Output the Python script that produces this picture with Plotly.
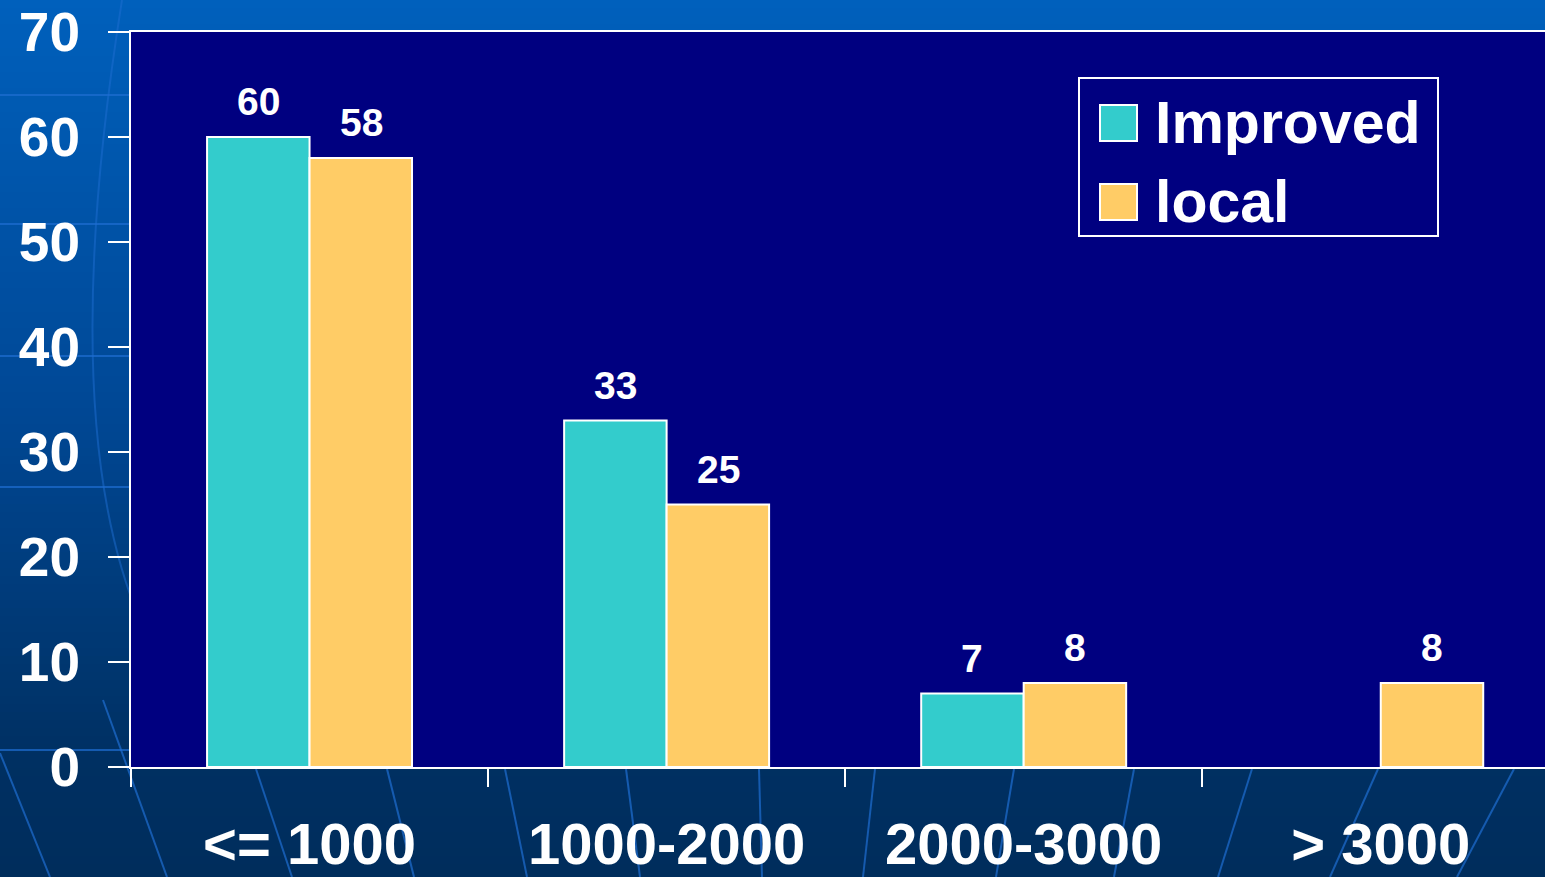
import plotly.graph_objects as go

# ---- data ----
categories = ["<= 1000", "1000-2000", "2000-3000", "> 3000"]
series_names = ["Improved", "local"]
improved = [60, 33, 7, None]
local = [58, 25, 8, 8]
y_ticks = [0, 10, 20, 30, 40, 50, 60, 70]

# ---- styles ----
W, H = 1545, 877
ML, MR, MT, MB = 131, 0, 32, 110
PW, PH = W - ML - MR, H - MT - MB
NAVY = "#000080"
TEAL = "#33CCCC"
GOLD = "#FFCC66"
FONT = "Liberation Sans, Arial, sans-serif"
colors = [TEAL, GOLD]


def px(x):
    return (x - ML) / PW


def py(y):
    return (H - MB - y) / PH


def lerp_color(y):
    stops = [(0, (0, 96, 188)), (400, (0, 72, 150)), (760, (0, 48, 98)), (877, (0, 45, 92))]
    for (y0, c0), (y1, c1) in zip(stops[:-1], stops[1:]):
        if y0 <= y <= y1:
            t = (y - y0) / (y1 - y0)
            return "rgb(%d,%d,%d)" % tuple(round(a + (b - a) * t) for a, b in zip(c0, c1))
    return "rgb(0,45,92)"


shapes = []
band = 8
for y0 in range(0, H, band):
    shapes.append(dict(type="rect", xref="paper", yref="paper", layer="below",
                       x0=px(0), x1=px(W), y0=py(y0), y1=py(min(y0 + band + 1, H)),
                       line=dict(width=0), fillcolor=lerp_color(y0 + band / 2)))

deco = "rgba(30,110,210,0.7)"
for yy in [95, 224, 356, 487, 750]:
    shapes.append(dict(type="line", xref="paper", yref="paper", layer="below",
                       x0=px(0), x1=px(130), y0=py(yy), y1=py(yy),
                       line=dict(color=deco, width=2)))
# curved line in left margin
shapes.append(dict(type="path", xref="paper", yref="paper", layer="below",
                   path="M %f,%f Q %f,%f %f,%f" % (px(122), py(0), px(55), py(420), px(140), py(620)),
                   line=dict(color="rgba(30,110,210,0.5)", width=2)))
# diagonal lines in bottom strip
tops = [256, 387, 505, 626, 759, 875, 1014, 1134, 1252, 1378, 1514]
bots = [292, 414, 527, 640, 762, 863, 996, 1114, 1218, 1330, 1457]
for xt, xb in zip(tops, bots):
    shapes.append(dict(type="line", xref="paper", yref="paper", layer="below",
                       x0=px(xt), x1=px(xb), y0=py(769), y1=py(877),
                       line=dict(color=deco, width=2)))
for (xa, ya, xb, yb) in [(0, 753, 50, 877), (103, 700, 167, 877)]:
    shapes.append(dict(type="line", xref="paper", yref="paper", layer="below",
                       x0=px(xa), x1=px(xb), y0=py(ya), y1=py(yb),
                       line=dict(color=deco, width=2)))

# navy plot area
shapes.append(dict(type="rect", xref="paper", yref="paper", layer="below",
                   x0=0, x1=1, y0=0, y1=1, line=dict(width=0), fillcolor=NAVY))

# custom legend
shapes.append(dict(type="rect", xref="paper", yref="paper", layer="above",
                   x0=px(1079), x1=px(1438), y0=py(78), y1=py(236),
                   line=dict(color="white", width=2), fillcolor=NAVY))
annotations = []
for i, (name, col) in enumerate(zip(series_names, colors)):
    cy = 123 + i * 79
    shapes.append(dict(type="rect", xref="paper", yref="paper", layer="above",
                       x0=px(1100), x1=px(1137), y0=py(cy - 18), y1=py(cy + 18),
                       line=dict(color="white", width=2), fillcolor=col))
    annotations.append(dict(xref="paper", yref="paper", x=px(1153), y=py(cy),
                            xanchor="left", yanchor="middle", showarrow=False,
                            text="<b>%s</b>" % name,
                            font=dict(family=FONT, size=59, color="white")))

fig = go.Figure()
for name, vals, col in zip(series_names, [improved, local], colors):
    fig.add_trace(go.Bar(name=name, x=categories, y=vals,
                         marker=dict(color=col, line=dict(color="white", width=2)),
                         showlegend=False))

# value labels above bars
for k, (vals, shift) in enumerate(zip([improved, local], [-51.5, 51.5])):
    for c, v in zip(categories, vals):
        if v is None:
            continue
        annotations.append(dict(x=c, y=v, xref="x", yref="y", xshift=shift, yshift=12,
                                xanchor="center", yanchor="bottom", showarrow=False,
                                text="<b>%d</b>" % v,
                                font=dict(family=FONT, size=39, color="white")))

fig.update_layout(
    width=W, height=H, autosize=False,
    margin=dict(l=ML, r=MR, t=MT, b=MB, pad=0, autoexpand=False),
    paper_bgcolor="#002d5c", plot_bgcolor=NAVY,
    barmode="group", bargap=0.426, bargroupgap=0,
    shapes=shapes, annotations=annotations,
    font=dict(family=FONT, color="white"),
    xaxis=dict(type="category", range=[-0.5, 3.46], showgrid=False, zeroline=False,
               automargin=False,
               showline=True, linecolor="white", linewidth=2, mirror=True,
               ticks="outside", tickson="boundaries", ticklen=18, tickwidth=2, tickcolor="white",
               tickfont=dict(family=FONT, size=58, color="white", weight="bold"),
               ticklabelstandoff=25),
    yaxis=dict(range=[0, 70], tickvals=y_ticks, showgrid=False, zeroline=False,
               automargin=False,
               showline=True, linecolor="white", linewidth=2, mirror=False,
               ticks="outside", ticklen=21, tickwidth=2, tickcolor="white",
               tickfont=dict(family=FONT, size=55, color="white", weight="bold"),
               ticklabelstandoff=17),
)

fig.write_html("out.html")
